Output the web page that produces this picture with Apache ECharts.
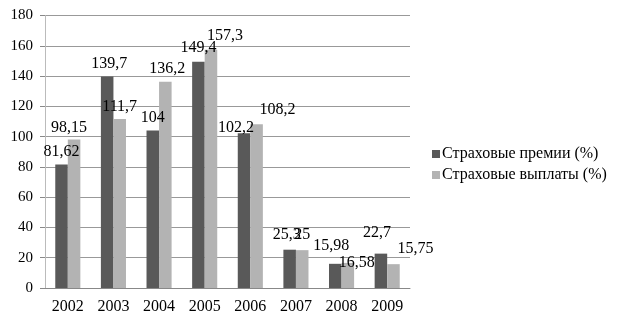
<!DOCTYPE html>
<html><head><meta charset="utf-8">
<script src="https://cdn.jsdelivr.net/npm/echarts@6/dist/echarts.min.js"></script>
<style>html,body{margin:0;padding:0;background:#fff}#c{width:619px;height:324px}</style>
</head><body><div id="c"></div>
<script>
const categories = ['2002','2003','2004','2005','2006','2007','2008','2009'];
const premiums = [81.62, 139.7, 104, 149.4, 102.2, 25.3, 15.98, 22.7];
const payouts = [98.15, 111.7, 136.2, 157.3, 108.2, 25, 16.58, 15.75];
const seriesNames = ['Страховые премии (%)', 'Страховые выплаты (%)'];
const yTicks = {min: 0, max: 180, interval: 20};

// label nudges (layout only)
const premOffsets = [[0,0],[2,0],[0,0],[0,-1],[-8,8],[-3,-2],[-4,-5],[-4,-8]];
const payOffsets = [[-5,1],[0,1],[2,0],[14,-1],[21,-1],[0,-2],[9,13],[22,-2]];

const font = 'Liberation Serif, Times New Roman, serif';
const fmt = v => String(v).replace('.', ',');
function mk(vals, offs) {
  return vals.map((v, i) => ({value: v, label: {offset: offs[i]}}));
}
const chart = echarts.init(document.getElementById('c'), null, {renderer: 'canvas'});
chart.setOption({
  animation: false,
  grid: {left: 45, right: 209, top: 15.5, bottom: 36},
  legend: {
    orient: 'vertical', left: 427, top: 141, itemGap: 5,
    itemWidth: 8, itemHeight: 8, icon: 'rect',
    textStyle: {fontFamily: font, fontSize: 16, color: '#000', padding: [0, 0, 0, -3]},
    data: seriesNames
  },
  xAxis: {
    type: 'category', data: categories,
    axisLine: {lineStyle: {color: '#888'}},
    axisTick: {length: 5, lineStyle: {color: '#888'}},
    axisLabel: {fontFamily: font, fontSize: 16, color: '#000', margin: 11}
  },
  yAxis: {
    type: 'value', min: yTicks.min, max: yTicks.max, interval: yTicks.interval,
    axisLine: {show: true, lineStyle: {color: '#bbb'}},
    axisTick: {show: true, length: 5, lineStyle: {color: '#888'}},
    splitLine: {lineStyle: {color: '#999'}},
    axisLabel: {fontFamily: font, fontSize: 15, color: '#000', margin: 12}
  },
  series: [
    {
      name: seriesNames[0], type: 'bar', data: mk(premiums, premOffsets),
      barGap: '0%', barCategoryGap: '45%',
      itemStyle: {color: '#595959'},
      label: {show: true, position: 'top', distance: 5, fontFamily: font, fontSize: 16, color: '#000',
        formatter: p => fmt(p.value)}
    },
    {
      name: seriesNames[1], type: 'bar', data: mk(payouts, payOffsets),
      itemStyle: {color: '#b3b3b3'},
      label: {show: true, position: 'top', distance: 5, fontFamily: font, fontSize: 16, color: '#000',
        formatter: p => fmt(p.value)}
    }
  ]
});
</script></body></html>
